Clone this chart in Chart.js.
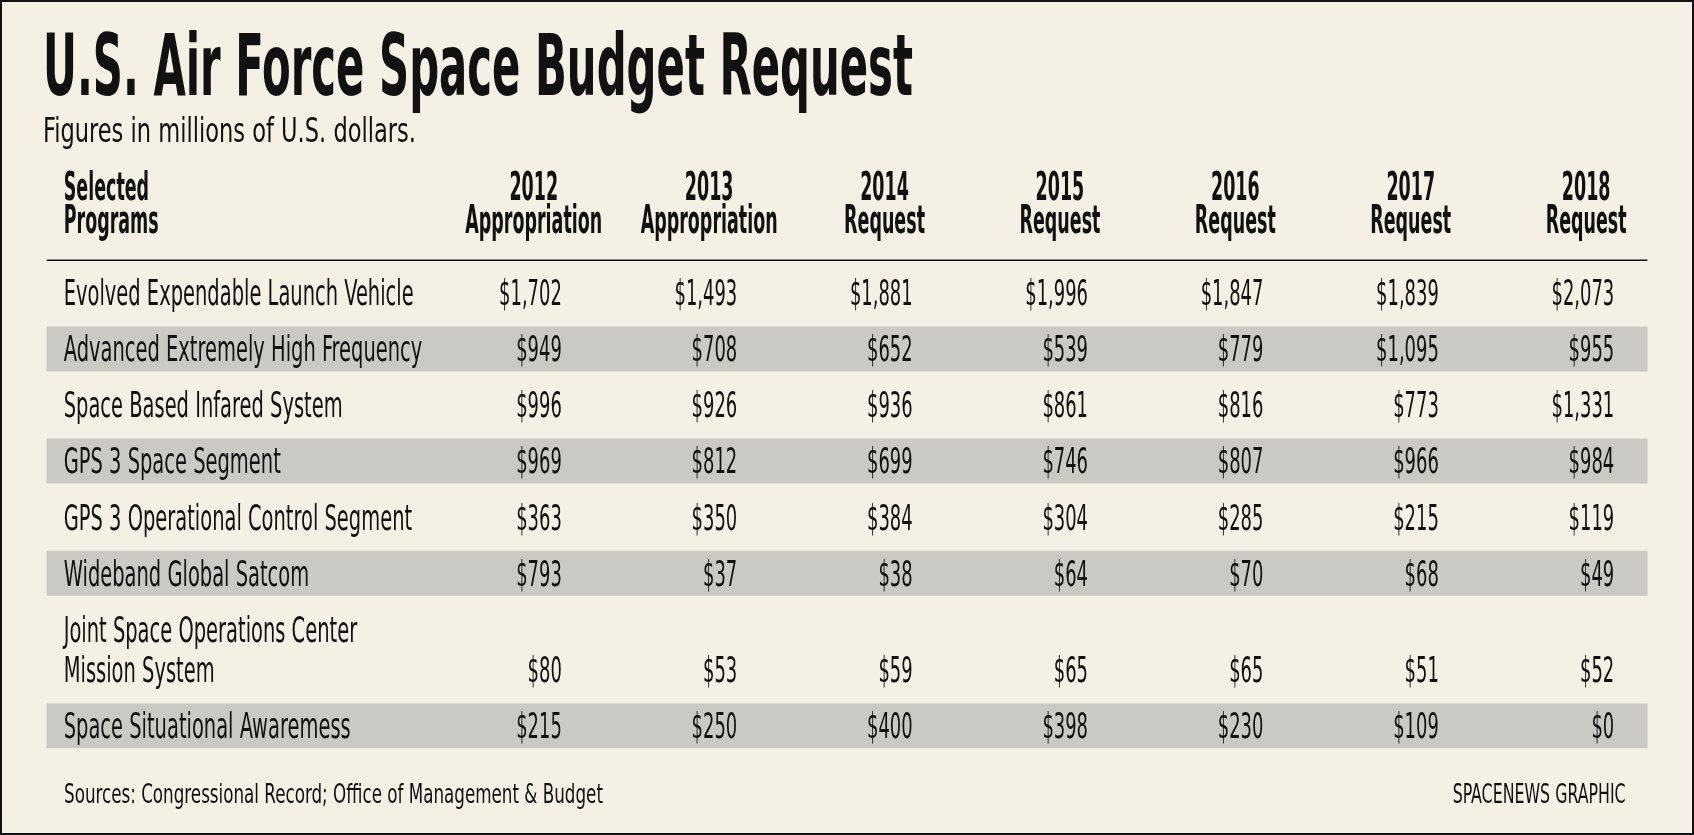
<!DOCTYPE html>
<html>
<head>
<meta charset="utf-8">
<title>U.S. Air Force Space Budget Request</title>
<script src="https://cdn.jsdelivr.net/npm/chart.js@4.4.1/dist/chart.umd.min.js"></script>
<style>
    html, body { margin: 0; padding: 0; background: #f5f0e4; }
    #frame {
        position: absolute; left: 0; top: 0; width: 1694px; height: 835px;
        box-sizing: border-box; border: 2px solid #111; background: #f5f0e4;
    }
    #tableChart { position: absolute; left: 0; top: 0; }
    .txt {
        position: absolute; white-space: nowrap; line-height: 1; color: #111;
        transform-origin: 0 0;
        font-family: "Liberation Sans Narrow", "DejaVu Sans Condensed", sans-serif;
    }
    #title { left: 43px; top: 22px; font-size: 86px; font-weight: bold; }
    #subtitle { left: 43px; top: 113px; font-size: 34.6px; }
    #sources { left: 64px; top: 781px; font-size: 26.7px; }
    #credit { right: 68px; top: 781px; font-size: 26.7px; transform-origin: 100% 0; }
</style>
</head>
<body>
<div id="frame"></div>
<canvas id="tableChart" width="1694" height="835"></canvas>
<div class="txt" id="title" data-w="870">U.S. Air Force Space Budget Request</div>
<div class="txt" id="subtitle" data-w="373">Figures in millions of U.S. dollars.</div>
<div class="txt" id="sources" data-w="539">Sources: Congressional Record; Office of Management &amp; Budget</div>
<div class="txt" id="credit" data-w="173">SPACENEWS GRAPHIC</div>
<script>
// ── Dados da tabela ────────────────────────────────────────────────────
const programs = [
    ['Evolved Expendable Launch Vehicle'],
    ['Advanced Extremely High Frequency'],
    ['Space Based Infared System'],
    ['GPS 3 Space Segment'],
    ['GPS 3 Operational Control Segment'],
    ['Wideband Global Satcom'],
    ['Joint Space Operations Center', 'Mission System'],
    ['Space Situational Awaremess']
];
const programHeader = ['Selected', 'Programs'];
const years = ['2012', '2013', '2014', '2015', '2016', '2017', '2018'];
const kinds = ['Appropriation', 'Appropriation', 'Request', 'Request', 'Request', 'Request', 'Request'];

const fy2012 = [1702, 949, 996, 969, 363, 793, 80, 215];
const fy2013 = [1493, 708, 926, 812, 350, 37, 53, 250];
const fy2014 = [1881, 652, 936, 699, 384, 38, 59, 400];
const fy2015 = [1996, 539, 861, 746, 304, 64, 65, 398];
const fy2016 = [1847, 779, 816, 807, 285, 70, 65, 230];
const fy2017 = [1839, 1095, 773, 966, 215, 68, 51, 109];
const fy2018 = [2073, 955, 1331, 984, 119, 49, 52, 0];
const columns = [fy2012, fy2013, fy2014, fy2015, fy2016, fy2017, fy2018];

// ── Layout (escalas) ───────────────────────────────────────────────────
const W = 1694, H = 835;
const PAD_L = 46.5, PAD_R = 46.4;
const COL_PITCH = 175.4, FIRST_COL_PX = 561.8;
const ROW_PITCH = 56.1, FIRST_ROW_PX = 292.8;
const X_MIN = 1 - (FIRST_COL_PX - PAD_L) / COL_PITCH;
const X_MAX = X_MIN + (W - PAD_L - PAD_R) / COL_PITCH;
const Y_MIN = -FIRST_ROW_PX / ROW_PITCH;
const Y_MAX = Y_MIN + H / ROW_PITCH;
const EXTRA_LINE = 0.72;
const LABEL_X = X_MIN + 17.2 / COL_PITCH;
const HEADER_SHIFT = -0.16;
const HEADER_Y = [-1.897, -1.30];
const RULE_Y = -0.578;

const rowPos = [];
let acc = 0;
programs.forEach(lines => { rowPos.push(acc); acc += 1 + (lines.length - 1) * EXTRA_LINE; });
const rowValuePos = rowPos.map((p, i) => p + (programs[i].length - 1) * EXTRA_LINE);
const stripeRows = [1, 3, 5, 7];

const fmt = v => '$' + v.toLocaleString('en-US');
const FAMILY = '"Liberation Sans Narrow", "DejaVu Sans Condensed", sans-serif';
const INK = '#111';

function fitScale(ctx, font, sample, target) {
    ctx.font = font;
    return target / ctx.measureText(sample).width;
}

function drawText(ctx, text, px, py, font, sx, align) {
    ctx.save();
    ctx.font = font;
    ctx.fillStyle = INK;
    ctx.textAlign = align;
    ctx.textBaseline = 'alphabetic';
    ctx.translate(px, py);
    ctx.scale(sx, 1);
    ctx.fillText(text, 0, 0);
    ctx.restore();
}

// ── Plugin: textos das células ─────────────────────────────────────────
const tableText = {
    id: 'tableText',
    afterDatasetsDraw(chart) {
        const { ctx, scales: { x, y } } = chart;
        const labelFont = `36px ${FAMILY}`;
        const headFont = `bold 39px ${FAMILY}`;
        const sLabel = fitScale(ctx, labelFont, 'Evolved Expendable Launch Vehicle', 350);
        const sValue = fitScale(ctx, labelFont, '$1,702', 62.7);
        const sHead = fitScale(ctx, headFont, 'Appropriation', 137);
        const capL = 36 * 0.344, capH = 39 * 0.344;

        // cabeçalho
        programHeader.forEach((t, j) => {
            drawText(ctx, t, x.getPixelForValue(LABEL_X), y.getPixelForValue(HEADER_Y[j]) + capH, headFont, sHead, 'left');
        });
        years.forEach((yr, k) => {
            const cx = x.getPixelForValue(k + 1 + HEADER_SHIFT);
            drawText(ctx, yr, cx, y.getPixelForValue(HEADER_Y[0]) + capH, headFont, sHead, 'center');
            drawText(ctx, kinds[k], cx, y.getPixelForValue(HEADER_Y[1]) + capH, headFont, sHead, 'center');
        });

        // linhas
        programs.forEach((lines, i) => {
            lines.forEach((t, j) => {
                drawText(ctx, t, x.getPixelForValue(LABEL_X),
                    y.getPixelForValue(rowPos[i] + j * EXTRA_LINE) + capL, labelFont, sLabel, 'left');
            });
            columns.forEach((col, k) => {
                drawText(ctx, fmt(col[i]), x.getPixelForValue(k + 1),
                    y.getPixelForValue(rowValuePos[i]) + capL, labelFont, sValue, 'right');
            });
        });
    }
};

const chartCtx = document.getElementById('tableChart').getContext('2d');
const tableChart = new Chart(chartCtx, {
    type: 'bar',
    data: {
        datasets: [
            {
                type: 'bar',
                indexAxis: 'y',
                data: stripeRows.map(i => ({ x: [X_MIN, X_MAX], y: rowValuePos[i] })),
                backgroundColor: '#cbc9c3',
                borderWidth: 0,
                barThickness: 44.3,
                order: 2
            },
            {
                type: 'line',
                data: [{ x: X_MIN, y: RULE_Y }, { x: X_MAX, y: RULE_Y }],
                borderColor: INK,
                borderWidth: 1.5,
                pointRadius: 0,
                fill: false,
                order: 1
            }
        ]
    },
    options: {
        responsive: false,
        animation: false,
        events: [],
        layout: { padding: { left: PAD_L, right: PAD_R, top: 0, bottom: 0 } },
        plugins: {
            legend: { display: false },
            tooltip: { enabled: false }
        },
        scales: {
            x: { type: 'linear', display: false, offset: false, min: X_MIN, max: X_MAX },
            y: { type: 'linear', display: false, offset: false, min: Y_MIN, max: Y_MAX, reverse: true }
        }
    },
    plugins: [tableText]
});

// ── Ajuste de largura dos textos HTML ──────────────────────────────────
document.querySelectorAll('.txt[data-w]').forEach(el => {
    const w = el.getBoundingClientRect().width;
    el.style.transform = `scaleX(${Number(el.dataset.w) / w})`;
});
</script>
</body>
</html>
